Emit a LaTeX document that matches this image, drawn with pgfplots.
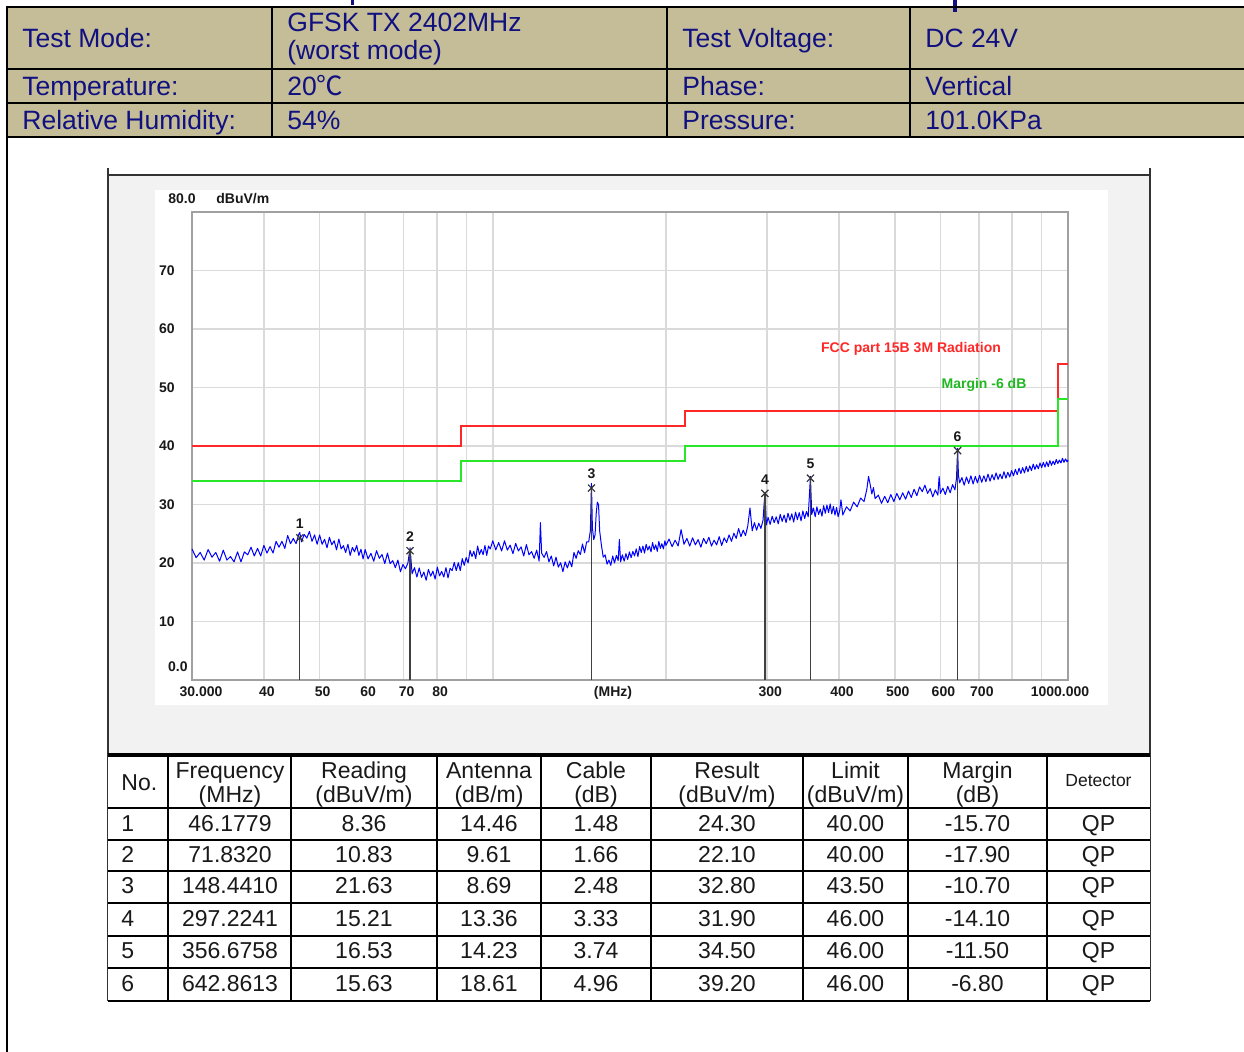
\documentclass[border=0pt]{standalone}
\usepackage{pgfplots}
\pgfplotsset{compat=1.18}
\usepackage{fontspec}
\setmainfont{Liberation Sans}
\newfontfamily\cjk{Noto Sans CJK SC}
\definecolor{hdrbg}{RGB}{196,189,151}
\definecolor{navy}{RGB}{16,16,128}
\definecolor{panel}{RGB}{242,242,242}
\definecolor{gridc}{RGB}{218,218,218}
\definecolor{framec}{RGB}{160,160,160}
\definecolor{limred}{RGB}{255,40,40}
\definecolor{limgreen}{RGB}{40,230,40}
\definecolor{trace}{RGB}{0,0,255}
\definecolor{txt}{RGB}{25,25,25}
\newcommand{\hf}{\fontsize{13.25}{15}\selectfont}
\newcommand{\tf}{\fontsize{11.5}{13}\selectfont}
\newcommand{\cf}{\fontsize{7}{8}\selectfont\bfseries}
\begin{document}
\begin{tikzpicture}[x=0.5pt,y=-0.5pt]
\useasboundingbox (0,0) rectangle (1244,1052);
\clip (0,0) rectangle (1244,1052);
% ---------- header table ----------
\fill[hdrbg] (7,7) rectangle (1244,137);
\fill[navy] (351,0) rectangle (354,5);
\fill[navy] (953,0) rectangle (957,12);
\begin{scope}[line width=1.25pt,black]
\draw (7,7)--(1244,7);
\draw (7,69)--(1244,69);
\draw (7,103)--(1244,103);
\draw (7,137)--(1244,137);
\draw (7,6)--(7,1052);
\draw (272,7)--(272,137);
\draw (667,7)--(667,137);
\draw (910,7)--(910,137);
\end{scope}
\begin{scope}[every node/.style={anchor=base west,inner sep=0pt,text=navy,font=\hf}]
\node at (22,47.5) {Test Mode:};
\node at (287,31.5) {GFSK TX 2402MHz};
\node at (287,60) {(worst mode)};
\node at (682,47.5) {Test Voltage:};
\node at (925,47.5) {DC 24V};
\node at (22,95.5) {Temperature:};
\node at (287,95.5) {20{\cjk ℃}};
\node at (682,95.5) {Phase:};
\node at (925,95.5) {Vertical};
\node at (22,129.5) {Relative Humidity:};
\node at (287,129.5) {54\%};
\node at (682,129.5) {Pressure:};
\node at (925,129.5) {101.0KPa};
\end{scope}
% ---------- chart panel ----------
\fill[panel] (108,175) rectangle (1150,755);
\fill[white] (155,190) rectangle (1108,705);
\draw[line width=1.1pt,black!80] (108,175)--(1150,175);
\draw[line width=1pt,black!80] (108,168)--(108,1001);
\draw[line width=1pt,black!80] (1150,168)--(1150,1001);
% ---------- data table ----------
\fill[white] (108,755) rectangle (1150,1001);
\draw[line width=1.8pt,black] (108,755)--(1150,755);
\begin{scope}[line width=1pt,black]
\foreach \yy in {808,840,871,903,936,968,1001} {\draw (108,\yy)--(1150,\yy);}
\foreach \xx in {168,291,437,541,651,803,908,1047} {\draw (\xx,755)--(\xx,1001);}
\end{scope}
\begin{scope}[every node/.style={anchor=base,inner sep=0pt,text=txt,font=\tf}]
\node[anchor=base west] at (121,791) {No.};
\node at (230,779) {Frequency}; \node at (230,803) {(MHz)};
\node at (364,779) {Reading}; \node at (364,803) {(dBuV/m)};
\node at (489,779) {Antenna}; \node at (489,803) {(dB/m)};
\node at (596,779) {Cable}; \node at (596,803) {(dB)};
\node at (727,779) {Result}; \node at (727,803) {(dBuV/m)};
\node at (855.5,779) {Limit}; \node at (855.5,803) {(dBuV/m)};
\node at (977.5,779) {Margin}; \node at (977.5,803) {(dB)};
\node[font=\fontsize{8.75}{10}\selectfont] at (1098.5,787) {Detector};
\foreach \yy/\n/\fq/\rd/\an/\cb/\rs/\lm/\mg in {
 832/1/46.1779/8.36/14.46/1.48/24.30/40.00/-15.70,
 863/2/71.8320/10.83/9.61/1.66/22.10/40.00/-17.90,
 894/3/148.4410/21.63/8.69/2.48/32.80/43.50/-10.70,
 927/4/297.2241/15.21/13.36/3.33/31.90/46.00/-14.10,
 959/5/356.6758/16.53/14.23/3.74/34.50/46.00/-11.50,
 992/6/642.8613/15.63/18.61/4.96/39.20/46.00/-6.80} {
 \node[anchor=base west] at (121,\yy) {\n};
 \node at (230,\yy) {\fq};
 \node at (364,\yy) {\rd};
 \node at (489,\yy) {\an};
 \node at (596,\yy) {\cb};
 \node at (727,\yy) {\rs};
 \node at (855.5,\yy) {\lm};
 \node at (977.5,\yy) {\mg};
 \node at (1098.5,\yy) {QP};
}
\end{scope}
% ---------- axis ----------
\begin{axis}[
 at={(96pt,-340pt)}, anchor=south west,
 scale only axis, width=438pt, height=234pt,
 xmode=log, xmin=30, xmax=1000, ymin=0, ymax=80,
 xtick={40,50,60,70,80,300,400,500,600,700},
 xticklabels={40,50,60,70,80,300,400,500,600,700},
 minor xtick={90,100,200,800,900},
 ytick={10,20,30,40,50,60,70},
 yticklabels={10,20,30,40,50,60,70},
 /pgf/number format/assume math mode=true,
 major tick length=0pt, minor tick length=0pt,
 grid=both,
 major grid style={draw=gridc,line width=0.8pt},
 minor grid style={draw=gridc,line width=0.8pt},
 axis line style={draw=framec,line width=1pt},
 ticklabel style={font=\cf,text=txt},
 yticklabel style={anchor=east,inner sep=0pt,xshift=-8.5pt},
 xticklabel style={anchor=north,inner sep=0pt,yshift=-3pt,xshift=1.5pt},
 clip=false,
]
\addplot[trace,line width=0.5pt,line join=round] table[row sep=\\] {
f v\\
30.0 22.4\\ 30.5 20.9\\ 31.0 21.8\\ 31.5 20.5\\ 32.0 22.3\\ 32.5 21.0\\ 33.0 21.8\\ 33.5 20.3\\ 34.0 22.2\\ 34.5 20.5\\
35.0 21.1\\ 35.5 20.2\\ 36.0 21.9\\ 36.5 20.2\\ 37.0 21.9\\ 37.5 21.4\\ 38.0 22.7\\ 38.5 21.2\\ 39.0 22.5\\ 39.5 21.2\\
40.0 23.0\\ 40.5 21.7\\ 41.0 22.8\\ 41.5 21.7\\ 42.0 23.7\\ 42.5 22.7\\ 43.0 23.7\\ 43.5 22.5\\ 44.0 24.7\\ 44.5 23.3\\
45.0 24.2\\ 45.5 23.3\\ 46.0 24.9\\ 46.18 25.2\\ 46.5 23.6\\ 47.0 24.9\\ 47.5 24.25\\ 48.0 25.4\\ 48.5 23.7\\ 49.0 24.8\\
49.5 23.2\\ 50.0 24.8\\ 50.5 23.2\\ 51.0 24.05\\ 51.5 22.6\\ 52.0 24.4\\ 52.5 23.1\\ 53.0 23.8\\ 53.5 22.25\\ 54.0 24.1\\
54.5 22.4\\ 55.0 22.95\\ 55.5 21.8\\ 56.0 23.2\\ 56.5 21.3\\ 57.0 22.65\\ 57.5 21.9\\ 58.0 23.0\\ 58.5 21.3\\ 59.0 22.35\\
59.5 20.7\\ 60.0 22.3\\ 60.7 20.7\\ 61.4 21.65\\ 62.1 20.3\\ 62.8 22.1\\ 63.5 20.8\\ 64.2 21.45\\ 64.9 19.9\\ 65.6 21.7\\
66.3 19.9\\ 67.0 20.4\\ 67.7 19.2\\ 68.4 20.5\\ 69.1 18.5\\ 69.8 19.75\\ 70.5 19.0\\ 71.2 20.0\\ 71.83 22.6\\ 72.4 18.15\\
73.1 19.2\\ 73.8 17.6\\ 74.5 19.15\\ 75.2 17.55\\ 75.9 18.45\\ 76.6 17.05\\ 77.3 18.9\\ 78.0 17.75\\ 78.7 18.6\\ 79.4 17.25\\
80.1 19.3\\ 80.8 17.8\\ 81.5 18.55\\ 82.2 17.6\\ 82.9 19.2\\ 83.6 17.45\\ 84.3 19.1\\ 85.0 18.7\\ 85.7 20.1\\ 86.4 18.7\\
87.1 20.05\\ 87.8 18.7\\ 88.5 20.75\\ 89.2 19.6\\ 89.9 20.95\\ 90.6 20.0\\ 91.3 22.15\\ 92.0 21.1\\ 92.7 22.0\\ 93.4 20.75\\
94.1 22.9\\ 94.8 21.45\\ 95.5 22.3\\ 96.2 21.4\\ 96.9 23.0\\ 97.6 21.3\\ 98.3 22.9\\ 99.0 22.4\\ 100.0 23.8\\ 101.2 22.25\\
102.4 23.5\\ 103.6 22.05\\ 104.8 23.8\\ 106.0 22.2\\ 107.2 23.05\\ 108.4 21.6\\ 109.6 23.35\\ 110.8 22.05\\ 112.0 22.75\\ 113.2 21.2\\
114.4 23.15\\ 115.6 21.4\\ 116.8 21.95\\ 118.0 20.8\\ 119.2 22.2\\ 120.4 20.3\\ 121.0 26.9\\ 121.6 21.7\\ 122.8 20.95\\ 124.0 21.95\\
125.2 20.2\\ 126.4 21.2\\ 127.6 19.5\\ 128.8 21.0\\ 130.0 19.3\\ 131.2 20.05\\ 132.4 18.5\\ 133.6 20.2\\ 134.8 19.15\\ 136.0 20.35\\
137.2 19.35\\ 138.4 21.8\\ 139.6 20.8\\ 140.8 22.1\\ 142.0 21.45\\ 143.2 23.25\\ 144.4 21.75\\ 145.6 23.6\\ 146.8 23.6\\ 147.8 25.5\\
148.44 33.6\\ 149.0 26.0\\ 149.8 24.0\\ 150.6 24.8\\ 151.3 28.5\\ 152.0 30.4\\ 152.7 30.0\\ 153.4 25.5\\ 154.4 23.2\\ 155.6 21.0\\
156.8 21.4\\ 158.0 19.8\\ 159.2 20.5\\ 160.4 19.6\\ 161.6 21.2\\ 162.8 20.0\\ 164.0 21.3\\ 165.2 20.4\\ 166.0 24.0\\ 166.8 20.2\\
168.0 21.4\\ 169.2 20.3\\ 170.4 21.6\\ 171.6 20.6\\ 172.8 21.9\\ 174.0 20.9\\ 175.2 22.0\\ 176.4 21.2\\ 177.6 22.4\\ 178.8 21.1\\
180.0 22.8\\ 181.2 21.8\\ 182.4 22.9\\ 183.6 21.7\\ 184.8 23.2\\ 186.0 22.2\\ 187.2 22.9\\ 188.4 21.9\\ 189.6 23.5\\ 190.8 22.3\\
192.0 23.1\\ 193.2 22.0\\ 194.4 23.7\\ 195.6 22.5\\ 196.8 23.3\\ 198.0 22.4\\ 199.2 23.8\\ 200.0 23.0\\ 202.5 24.1\\ 205.0 22.8\\
207.5 23.9\\ 210.0 22.9\\ 212.5 25.7\\ 215.0 23.2\\ 217.5 24.2\\ 220.0 22.9\\ 222.5 24.3\\ 225.0 23.1\\ 227.5 24.0\\ 230.0 22.7\\
232.5 24.2\\ 235.0 23.3\\ 237.5 24.4\\ 240.0 22.9\\ 242.5 23.9\\ 245.0 23.1\\ 247.5 24.5\\ 250.0 23.0\\ 252.5 24.3\\ 255.0 23.5\\
257.5 24.8\\ 260.0 23.7\\ 262.5 25.1\\ 265.0 24.2\\ 267.5 25.9\\ 270.0 24.5\\ 272.5 25.6\\ 275.0 24.7\\ 277.5 26.3\\ 280.0 29.4\\
282.5 25.5\\ 285.0 26.9\\ 287.5 25.6\\ 290.0 26.8\\ 292.5 25.9\\ 295.0 27.3\\ 297.22 32.0\\ 299.0 26.5\\ 301.0 27.8\\ 303.5 26.6\\
306.0 28.0\\ 308.5 26.9\\ 311.0 27.9\\ 313.5 26.7\\ 316.0 28.3\\ 318.5 27.1\\ 321.0 28.2\\ 323.5 26.9\\ 326.0 28.5\\ 328.5 27.3\\
331.0 28.4\\ 333.5 27.0\\ 336.0 28.7\\ 338.5 27.4\\ 341.0 28.6\\ 343.5 27.2\\ 346.0 28.9\\ 348.5 27.6\\ 351.0 28.8\\ 353.5 27.9\\
356.68 34.8\\ 358.5 28.3\\ 361.0 29.4\\ 363.5 27.9\\ 366.0 29.6\\ 368.5 28.3\\ 371.0 29.2\\ 373.5 28.0\\ 376.0 29.8\\ 378.5 28.5\\
381.0 29.9\\ 383.5 28.6\\ 386.0 30.1\\ 388.5 28.4\\ 391.0 29.7\\ 393.5 28.2\\ 396.0 29.5\\ 398.5 27.9\\ 401 29.0\\ 403 30.8\\
406 28.2\\ 412 29.6\\ 418 28.9\\ 424 30.4\\ 430 29.6\\ 436 31.1\\ 442 30.5\\ 447 32.6\\ 450 34.8\\ 453 33.4\\
456 31.8\\ 459 32.9\\ 462 31.0\\ 468 31.6\\ 474 30.2\\ 480 31.4\\ 486 30.3\\ 492 31.7\\ 498 30.5\\ 504 31.9\\
510 30.8\\ 516 32.0\\ 522 30.9\\ 528 32.3\\ 534 31.2\\ 540 32.6\\ 546 31.5\\ 552 33.0\\ 558 32.2\\ 564 33.3\\
570 31.9\\ 576 32.7\\ 582 31.3\\ 588 32.5\\ 594 31.6\\ 597 34.8\\ 600 31.9\\ 606 32.8\\ 612 31.7\\ 618 33.1\\
624 32.0\\ 630 33.4\\ 636 32.5\\ 640 34.5\\ 642.86 39.6\\ 645 35.0\\ 648 33.7\\ 654 34.6\\ 660 33.3\\ 666 34.7\\
672 33.6\\ 678 34.9\\ 684 33.5\\ 690 34.8\\ 696 33.7\\ 702 35.0\\ 708 33.8\\ 714 34.9\\ 720 33.9\\ 726 35.2\\
732 34.0\\ 738 35.1\\ 744 34.2\\ 750 35.4\\ 756 34.3\\ 762 35.2\\ 768 34.4\\ 774 35.6\\ 780 34.5\\ 786 35.5\\
792 34.7\\ 798 35.8\\ 804 34.9\\ 810 36.0\\ 816 35.1\\ 822 36.2\\ 828 35.3\\ 834 36.3\\ 840 35.4\\ 846 36.5\\
852 35.6\\ 858 36.6\\ 864 35.8\\ 870 36.9\\ 876 36.0\\ 882 36.8\\ 888 36.1\\ 894 37.1\\ 900 36.3\\ 906 37.2\\
912 36.4\\ 918 37.3\\ 924 36.5\\ 930 37.5\\ 936 36.7\\ 942 37.4\\ 948 36.8\\ 954 37.7\\ 960 37.0\\ 966 37.6\\
972 37.1\\ 978 37.9\\ 984 37.2\\ 990 37.8\\ 996 37.3\\ 1000 37.6\\
};
\addplot[limred,line width=1pt] coordinates {(30,40) (88,40) (88,43.5) (216,43.5) (216,46) (960,46) (960,54) (1000,54)};
\addplot[limgreen,line width=1pt] coordinates {(30,34) (88,34) (88,37.5) (216,37.5) (216,40) (960,40) (960,48) (1000,48)};
\addplot[ycomb,black!75,line width=0.65pt] coordinates {(46.1779,24.3) (71.8320,22.1) (148.4410,32.8) (297.2241,31.9) (356.6758,34.5) (642.8613,39.2)};
\addplot[only marks,mark=x,mark size=2.5pt,black!80,line width=0.6pt] coordinates {(46.1779,24.3) (71.8320,22.1) (148.4410,32.8) (297.2241,31.9) (356.6758,34.5) (642.8613,39.2)};
\begin{scope}[every node/.style={font=\cf,text=txt,inner sep=0pt}]
\node[yshift=7pt] at (axis cs:46.1779,24.3) {1};
\node[yshift=7pt] at (axis cs:71.8320,22.1) {2};
\node[yshift=7pt] at (axis cs:148.4410,32.8) {3};
\node[yshift=7pt] at (axis cs:297.2241,31.9) {4};
\node[yshift=7pt] at (axis cs:356.6758,34.5) {5};
\node[yshift=7pt] at (axis cs:642.8613,39.2) {6};
\node[anchor=east] at (rel axis cs:-0.0046,0.0278) {0.0};
\node[anchor=east] at (rel axis cs:0.0046,1.028) {80.0};
\node[anchor=west] at (rel axis cs:0.0274,1.028) {dBuV/m};
\node[anchor=north,yshift=-3pt] at (rel axis cs:0.0103,0) {30.000};
\node[anchor=north,yshift=-3pt] at (rel axis cs:0.9909,0) {1000.000};
\node[anchor=north,yshift=-3pt] at (rel axis cs:0.4806,0) {(MHz)};
\node[text=limred] at (rel axis cs:0.8208,0.7073) {FCC part 15B 3M Radiation};
\node[text=limgreen!80!black] at (rel axis cs:0.9041,0.6303) {Margin -6 dB};
\end{scope}
\end{axis}
\end{tikzpicture}
\end{document}
